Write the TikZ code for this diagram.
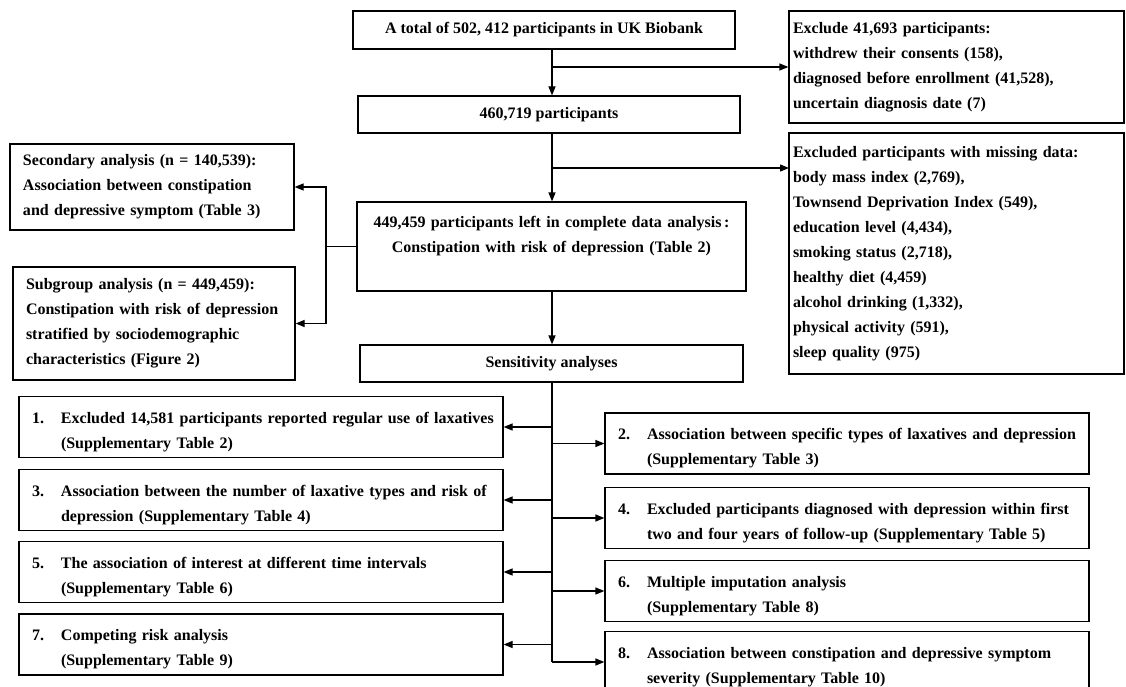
\documentclass[tikz,border=0pt]{standalone}
\usepackage{fontspec}
\setmainfont{Liberation Serif}
\usetikzlibrary{arrows.meta}

\newcommand{\numitem}[3]{\rule{0pt}{21pt}\makebox[29pt][l]{#1}\mbox{#2}\\\hspace*{29pt}\mbox{#3}}
\newcommand{\jline}[2]{\makebox[#1][s]{#2}}

\begin{document}
\begin{tikzpicture}[x=1pt,y=-1pt,
  box/.style={draw,line width=1.2pt,inner sep=0pt,font=\bfseries\fontsize{16}{25}\selectfont},
  listbox/.style={box,minimum width=484pt,minimum height=61pt,text width=458pt,inner xsep=13pt,align=left},
  link/.style={line width=1.2pt},
  arr/.style={line width=1.2pt,-{Triangle[length=9pt,width=7pt]}}]

\useasboundingbox (0,0) rectangle (1126,687);
\coordinate (spine) at (552,0);
\coordinate (side) at (326,0);

%-------------------Cohort selection--------------------%
\node[box,minimum width=382pt,minimum height=38pt] (total) at (544,30) {A total of 502, 412 participants in UK Biobank};
\node[box,minimum width=382pt,minimum height=37pt] (remain) at (549,114.5) {460,719 participants};
\node[box,minimum height=89pt,text width=380pt,inner xsep=4.5pt,align=center] (main) at (551.5,246.5)
  {449,459 participants left in complete data analysis\,:\\Constipation with risk of depression (Table 2)\\\mbox{}};
\node[box,minimum width=383pt,minimum height=37pt] (sens) at (551.5,363.5) {Sensitivity analyses};

%-------------------Exclusions--------------------%
\node[box,minimum height=112pt,text width=327pt,inner xsep=4pt,align=left] (excl) at (956.5,67)
  {Exclude 41,693 participants:\\withdrew their consents (158),\\diagnosed before enrollment (41,528),\\uncertain diagnosis date (7)};
\node[box,minimum height=241pt,text width=327pt,inner xsep=4pt,align=left] (miss) at (956.5,253.5)
  {Excluded participants with missing data:\\body mass index (2,769),\\Townsend Deprivation Index (549),\\education level (4,434),\\smoking status (2,718),\\healthy diet (4,459)\\alcohol drinking (1,332),\\physical activity (591),\\sleep quality (975)};
\coordinate (missin) at (789,168);

%-------------------Secondary and subgroup--------------------%
\node[box,minimum height=86pt,text width=258pt,inner xsep=13pt,align=left] (second) at (152,187)
  {Secondary analysis (n = 140,539):\\Association between constipation\\and depressive symptom (Table 3)};
\node[box,minimum height=113pt,text width=256pt,inner xsep=13pt,align=left] (subgr) at (154,323.5)
  {Subgroup analysis (n = 449,459):\\Constipation with risk of depression\\stratified by sociodemographic\\characteristics (Figure 2)};

%-------------------Sensitivity analyses--------------------%
\node[listbox] (s1) at (261,427) {\numitem{1.}{Excluded 14,581 participants reported regular use of laxatives}{(Supplementary Table 2)}};
\node[listbox] (s3) at (261,500) {\numitem{3.}{\jline{428pt}{Association between the number of laxative types and risk of}}{depression (Supplementary Table 4)}};
\node[listbox] (s5) at (261,572) {\numitem{5.}{The association of interest at different time intervals}{(Supplementary Table 6)}};
\node[listbox] (s7) at (261,644.5) {\numitem{7.}{Competing risk analysis}{(Supplementary Table 9)}};

\node[listbox] (s2) at (847,443.5) {\numitem{2.}{Association between specific types of laxatives and depression}{(Supplementary Table 3)}};
\node[listbox] (s4) at (847,518) {\numitem{4.}{\jline{415pt}{Excluded participants diagnosed with depression within first}}{two and four years of follow-up (Supplementary Table 5)}};
\node[listbox] (s6) at (847,591) {\numitem{6.}{Multiple imputation analysis}{(Supplementary Table 8)}};
\node[listbox] (s8) at (847,662) {\numitem{8.}{Association between constipation and depressive symptom}{severity (Supplementary Table 10)}};

%-------------------Connectors--------------------%
\draw[arr] (spine |- total.south) -- (spine |- remain.north);
\draw[arr] (spine |- excl.west) -- (excl.west);
\draw[arr] (spine |- remain.south) -- (spine |- main.north);
\draw[arr] (spine |- missin) -- (missin);
\draw[link] (main.west) -- (side |- main.west);
\draw[arr] (side |- main.west) |- (second.east);
\draw[arr] (side |- main.west) |- (subgr.east);
\draw[arr] (spine |- main.south) -- (spine |- sens.north);

\draw[link] (spine |- sens.south) -- (spine |- s8.west);
\draw[arr] (spine |- s1.east) -- (s1.east);
\draw[arr] (spine |- s3.east) -- (s3.east);
\draw[arr] (spine |- s5.east) -- (s5.east);
\draw[arr] (spine |- s7.east) -- (s7.east);
\draw[arr] (spine |- s2.west) -- (s2.west);
\draw[arr] (spine |- s4.west) -- (s4.west);
\draw[arr] (spine |- s6.west) -- (s6.west);
\draw[arr] (spine |- s8.west) -- (s8.west);
\end{tikzpicture}
\end{document}
